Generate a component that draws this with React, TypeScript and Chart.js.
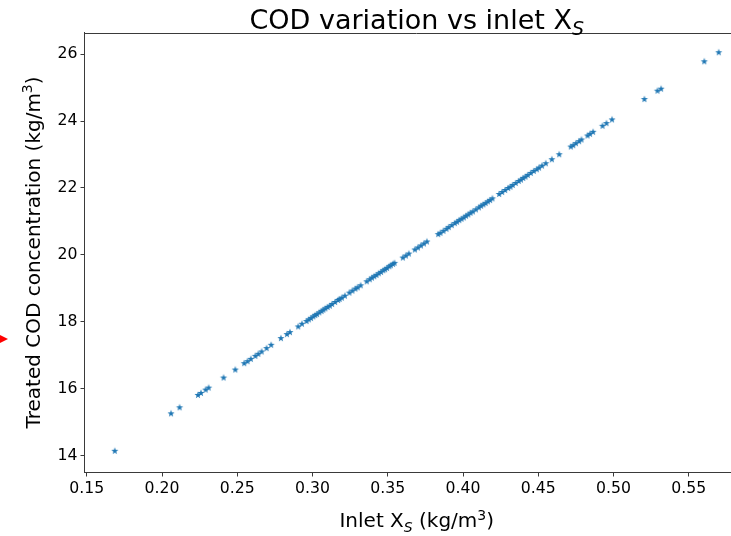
import React, { useEffect, useRef } from "react";
import { Chart, registerables } from "chart.js";

Chart.register(...registerables);

// ---- data ----
const inletXs: number[] = [
  0.1686, 0.206, 0.2117, 0.2239, 0.2259, 0.229, 0.231, 0.2409, 0.2487, 0.2546,
  0.2568, 0.259, 0.262, 0.264, 0.2662, 0.2695, 0.2725, 0.279, 0.283, 0.285,
  0.2905, 0.293, 0.296, 0.2975, 0.299, 0.3005, 0.3018, 0.303, 0.3045, 0.306,
  0.3072, 0.3085, 0.31, 0.3115, 0.313, 0.315, 0.317, 0.318, 0.3195, 0.3215,
  0.3245, 0.3265, 0.3285, 0.33, 0.332, 0.336, 0.338, 0.3395, 0.341, 0.3425,
  0.344, 0.3455, 0.347, 0.3482, 0.3495, 0.351, 0.352, 0.3535, 0.3545, 0.36,
  0.362, 0.364, 0.368, 0.37, 0.372, 0.374, 0.376, 0.3835, 0.385, 0.387,
  0.389, 0.3905, 0.3925, 0.3945, 0.396, 0.3975, 0.399, 0.4005, 0.402, 0.4035,
  0.405, 0.4065, 0.4085, 0.4105, 0.412, 0.4135, 0.415, 0.4165, 0.418, 0.4195,
  0.424, 0.426, 0.428, 0.43, 0.4315, 0.433, 0.435, 0.437, 0.4385, 0.44,
  0.4415, 0.443, 0.445, 0.447, 0.449, 0.4505, 0.4525, 0.455, 0.459, 0.4639,
  0.4716, 0.4732, 0.475, 0.4771, 0.4787, 0.4827, 0.4844, 0.4864, 0.4927, 0.4953,
  0.499, 0.5205, 0.5292, 0.5316, 0.5603, 0.5699,
];

const treatedCod: number[] = [
  14.14, 15.26, 15.44, 15.81, 15.87, 15.97, 16.03, 16.33, 16.57, 16.76,
  16.82, 16.89, 16.98, 17.04, 17.11, 17.21, 17.31, 17.51, 17.63, 17.69,
  17.86, 17.94, 18.02, 18.07, 18.11, 18.16, 18.2, 18.23, 18.28, 18.32,
  18.36, 18.4, 18.44, 18.48, 18.53, 18.59, 18.65, 18.68, 18.72, 18.78,
  18.87, 18.93, 18.99, 19.03, 19.09, 19.21, 19.27, 19.32, 19.36, 19.4,
  19.45, 19.49, 19.54, 19.57, 19.61, 19.66, 19.69, 19.73, 19.76, 19.92,
  19.98, 20.04, 20.16, 20.22, 20.28, 20.34, 20.4, 20.62, 20.66, 20.72,
  20.78, 20.83, 20.89, 20.95, 20.99, 21.04, 21.08, 21.12, 21.17, 21.21,
  21.26, 21.3, 21.36, 21.42, 21.47, 21.51, 21.55, 21.6, 21.64, 21.69,
  21.82, 21.88, 21.94, 22.0, 22.04, 22.09, 22.15, 22.21, 22.25, 22.3,
  22.34, 22.39, 22.45, 22.51, 22.56, 22.61, 22.67, 22.74, 22.86, 23.01,
  23.24, 23.28, 23.34, 23.4, 23.45, 23.57, 23.62, 23.68, 23.86, 23.94,
  24.05, 24.66, 24.91, 24.97, 25.79, 26.06,
];

const xTicks: number[] = [0.15, 0.2, 0.25, 0.3, 0.35, 0.4, 0.45, 0.5, 0.55];
const yTicks: number[] = [14, 16, 18, 20, 22, 24, 26];

const X_MIN = 0.1485;
const X_MAX = 0.59;
const Y_MIN = 13.49;
const Y_MAX = 26.65;

const FONT = "DejaVu Sans";
const MARKER_COLOR = "#1f77b4";
const SPINE_COLOR = "#3a3a3a";

type Seg = { t: string; size: number; italic?: boolean; dy?: number };

function segFont(s: Seg) {
  return `${s.italic ? "italic " : ""}${s.size}px "${FONT}"`;
}

function drawRich(
  ctx: CanvasRenderingContext2D,
  segs: Seg[],
  cx: number,
  cy: number,
  angle: number
) {
  ctx.save();
  ctx.translate(cx, cy);
  ctx.rotate(angle);
  ctx.fillStyle = "#000";
  ctx.textBaseline = "alphabetic";
  ctx.textAlign = "left";
  let total = 0;
  for (const s of segs) {
    ctx.font = segFont(s);
    total += ctx.measureText(s.t).width;
  }
  let x = -total / 2;
  for (const s of segs) {
    ctx.font = segFont(s);
    ctx.fillText(s.t, x, s.dy || 0);
    x += ctx.measureText(s.t).width;
  }
  ctx.restore();
}

function makeStar(): HTMLCanvasElement {
  const c = document.createElement("canvas");
  c.width = 10;
  c.height = 10;
  const g = c.getContext("2d")!;
  const cx = 5;
  const cy = 5.2;
  const ro = 3.7;
  const ri = ro * 0.4;
  g.beginPath();
  for (let i = 0; i < 10; i++) {
    const r = i % 2 === 0 ? ro : ri;
    const a = -Math.PI / 2 + (i * Math.PI) / 5;
    const px = cx + r * Math.cos(a);
    const py = cy + r * Math.sin(a);
    if (i === 0) g.moveTo(px, py);
    else g.lineTo(px, py);
  }
  g.closePath();
  g.fillStyle = MARKER_COLOR;
  g.fill();
  return c;
}

const decorPlugin = {
  id: "decor",
  afterDraw(chart: any) {
    const ctx: CanvasRenderingContext2D = chart.ctx;
    const area = chart.chartArea;
    const midX = (area.left + area.right) / 2;
    const midY = (area.top + area.bottom) / 2;

    // top spine
    ctx.save();
    ctx.strokeStyle = SPINE_COLOR;
    ctx.lineWidth = 1;
    ctx.beginPath();
    ctx.moveTo(area.left - 0.5, Math.round(area.top) + 0.5);
    ctx.lineTo(area.right, Math.round(area.top) + 0.5);
    ctx.stroke();
    ctx.restore();

    // title
    drawRich(
      ctx,
      [
        { t: "COD variation vs inlet X", size: 27 },
        { t: "S", size: 19, italic: true, dy: 6 },
      ],
      midX,
      28.5,
      0
    );

    // x axis title
    drawRich(
      ctx,
      [
        { t: "Inlet X", size: 20 },
        { t: "S", size: 14, italic: true, dy: 4.5 },
        { t: " (kg/m", size: 20 },
        { t: "3", size: 14, dy: -7.5 },
        { t: ")", size: 20 },
      ],
      midX,
      527,
      0
    );

    // y axis title
    drawRich(
      ctx,
      [
        { t: "Treated COD concentration (kg/m", size: 20 },
        { t: "3", size: 14, dy: -7.5 },
        { t: ")", size: 20 },
      ],
      39.5,
      midY,
      -Math.PI / 2
    );

    // red marker at the left edge
    ctx.save();
    ctx.fillStyle = "#ff0000";
    ctx.beginPath();
    ctx.moveTo(-4, 333);
    ctx.lineTo(8, 339);
    ctx.lineTo(-4, 345);
    ctx.closePath();
    ctx.fill();
    ctx.restore();
  },
};

export default function App() {
  const canvasRef = useRef<HTMLCanvasElement | null>(null);

  useEffect(() => {
    const canvas = canvasRef.current;
    if (!canvas) return;
    const star = makeStar();
    const points = inletXs.map((x, i) => ({ x, y: treatedCod[i] }));

    const chart = new Chart(canvas, {
      type: "scatter",
      data: {
        datasets: [
          {
            data: points,
            pointStyle: star as any,
            pointRadius: 4,
            backgroundColor: MARKER_COLOR,
            borderColor: MARKER_COLOR,
            showLine: false,
          },
        ],
      },
      options: {
        responsive: false,
        animation: false,
        devicePixelRatio: 1,
        layout: { padding: { top: 32.5, right: 11, left: 0, bottom: 0 } },
        plugins: {
          legend: { display: false },
          title: { display: false },
          tooltip: { enabled: false },
        },
        scales: {
          x: {
            type: "linear",
            min: X_MIN,
            max: X_MAX,
            afterBuildTicks: (scale: any) => {
              scale.ticks = xTicks.map((v) => ({ value: v }));
            },
            afterFit: (scale: any) => {
              scale.height = 63.5;
            },
            ticks: {
              color: "#000",
              font: { family: FONT, size: 15.7 },
              padding: 3,
              maxRotation: 0,
              autoSkip: false,
              callback: (v: any) => Number(v).toFixed(2),
            },
            grid: {
              display: true,
              drawOnChartArea: false,
              drawTicks: true,
              tickLength: 4,
              tickColor: SPINE_COLOR,
              tickWidth: 1,
            },
            border: { display: true, color: SPINE_COLOR, width: 1 },
          },
          y: {
            type: "linear",
            min: Y_MIN,
            max: Y_MAX,
            afterBuildTicks: (scale: any) => {
              scale.ticks = yTicks.map((v) => ({ value: v }));
            },
            afterFit: (scale: any) => {
              scale.width = 84.5;
            },
            ticks: {
              color: "#000",
              font: { family: FONT, size: 15.7 },
              padding: 3,
              autoSkip: false,
              callback: (v: any) => String(v),
            },
            grid: {
              display: true,
              drawOnChartArea: false,
              drawTicks: true,
              tickLength: 4,
              tickColor: SPINE_COLOR,
              tickWidth: 1,
            },
            border: { display: true, color: SPINE_COLOR, width: 1 },
          },
        },
      },
      plugins: [decorPlugin],
    });

    return () => {
      chart.destroy();
    };
  }, []);

  return (
    <div
      style={{
        position: "fixed",
        left: 0,
        top: 0,
        width: 731,
        height: 536,
        overflow: "hidden",
        background: "#fff",
      }}
    >
      <canvas
        ref={canvasRef}
        width={760}
        height={536}
        style={{ display: "block", width: 760, height: 536 }}
      />
    </div>
  );
}
